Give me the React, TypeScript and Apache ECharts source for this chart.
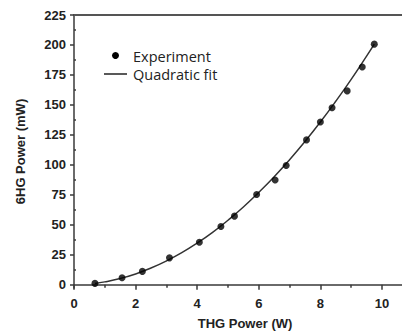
import React, { useEffect, useRef } from "react";
import * as echarts from "echarts";

const expX = [0.68, 1.56, 2.22, 3.1, 4.07, 4.77, 5.21, 5.93, 6.53, 6.89, 7.55, 8.0, 8.38, 8.87, 9.36, 9.75];
const expY = [1.1, 5.8, 11.1, 22.4, 35.4, 48.6, 57.2, 75.2, 87.3, 99.5, 120.8, 135.7, 147.6, 161.7, 181.6, 200.7];

const fitX = [0.68, 1, 1.5, 2, 2.5, 3, 3.5, 4, 4.5, 5, 5.5, 6, 6.5, 7, 7.5, 8, 8.5, 9, 9.5, 9.75];
const fitY = [1.1, 2.35, 5.2, 9.0, 13.9, 19.8, 26.7, 34.7, 43.7, 53.8, 64.8, 77.0, 90.1, 104.3, 119.5, 135.7, 153.0, 171.3, 190.7, 200.7];

const xMajor = [0, 2, 4, 6, 8, 10];
const xMinor = [1, 3, 5, 7, 9];
const yMajor = [0, 25, 50, 75, 100, 125, 150, 175, 200, 225];
const yMinor = [12.5, 37.5, 62.5, 87.5, 112.5, 137.5, 162.5, 187.5, 212.5];

const X_MIN = 0;
const X_MAX = 10.65;
const Y_MIN = -2.75;
const Y_MAX = 225;

const AXIS_COLOR = "#3a3a3a";

export default function App() {
  const ref = useRef<HTMLDivElement>(null);

  useEffect(() => {
    document.body.style.margin = "0";
    if (!ref.current) return;
    const chart = echarts.init(ref.current, undefined, { renderer: "svg" });

    const labelStyle = {
      fontFamily: "Liberation Sans, Arial, sans-serif",
      fontWeight: "bold" as const,
      fontSize: 13,
      color: "#222",
    };

    chart.setOption({
      animation: false,
      backgroundColor: "#fff",
      grid: { left: 74, top: 15, right: 0, bottom: 45 },
      xAxis: [
        {
          type: "value",
          min: X_MIN,
          max: X_MAX,
          position: "bottom",
          name: "THG Power (W)",
          nameLocation: "middle",
          nameGap: 29,
          nameTextStyle: { ...labelStyle, padding: [0, 0, 0, 14] },
          axisLine: { show: true, lineStyle: { color: AXIS_COLOR, width: 1.5 } },
          axisTick: { show: true, customValues: xMajor, length: 5, lineStyle: { color: AXIS_COLOR, width: 1.5 } },
          axisLabel: { customValues: xMajor, margin: 9, ...labelStyle },
          splitLine: { show: false },
        },
        {
          type: "value",
          min: X_MIN,
          max: X_MAX,
          position: "bottom",
          axisLine: { show: false },
          axisTick: { show: true, customValues: xMinor, length: 3, lineStyle: { color: AXIS_COLOR, width: 1.5 } },
          axisLabel: { show: false },
          splitLine: { show: false },
        },
        {
          type: "value",
          min: X_MIN,
          max: X_MAX,
          position: "top",
          axisLine: { show: true, lineStyle: { color: "#555", width: 2 } },
          axisTick: { show: false },
          axisLabel: { show: false },
          splitLine: { show: false },
        },
      ],
      yAxis: [
        {
          type: "value",
          min: Y_MIN,
          max: Y_MAX,
          name: "6HG Power (mW)",
          nameLocation: "middle",
          nameGap: 47,
          nameTextStyle: labelStyle,
          axisLine: { show: true, lineStyle: { color: AXIS_COLOR, width: 1.5 } },
          axisTick: { show: true, customValues: yMajor, length: 4, lineStyle: { color: AXIS_COLOR, width: 1.5 } },
          axisLabel: { customValues: yMajor, margin: 8, ...labelStyle },
          splitLine: { show: false },
        },
        {
          type: "value",
          min: Y_MIN,
          max: Y_MAX,
          axisLine: { show: false },
          axisTick: { show: true, customValues: yMinor, length: 2, lineStyle: { color: AXIS_COLOR, width: 1.5 } },
          axisLabel: { show: false },
          splitLine: { show: false },
        },
      ],
      graphic: [
        { type: "circle", shape: { cx: 115.5, cy: 55.5, r: 3.5 }, style: { fill: "#000" } },
        {
          type: "text",
          x: 133,
          y: 56,
          style: { text: "Experiment", fill: "#222", font: "14.5px 'Open Sans', sans-serif", verticalAlign: "middle" },
        },
        { type: "line", shape: { x1: 104, y1: 74, x2: 127, y2: 74 }, style: { stroke: "#222", lineWidth: 1.5 } },
        {
          type: "text",
          x: 133,
          y: 74,
          style: { text: "Quadratic fit", fill: "#222", font: "14.5px 'Open Sans', sans-serif", verticalAlign: "middle" },
        },
      ],
      series: [
        {
          name: "Quadratic fit",
          type: "line",
          xAxisIndex: 0,
          yAxisIndex: 0,
          data: fitX.map((x, i) => [x, fitY[i]]),
          smooth: true,
          showSymbol: false,
          symbol: "none",
          lineStyle: { color: "#333", width: 1.5 },
          z: 2,
        },
        {
          name: "Experiment",
          type: "scatter",
          xAxisIndex: 0,
          yAxisIndex: 0,
          data: expX.map((x, i) => [x, expY[i]]),
          symbol: "circle",
          symbolSize: 7,
          itemStyle: { color: "#000" },
          z: 3,
        },
      ],
    });

    return () => chart.dispose();
  }, []);

  return <div ref={ref} style={{ width: 402, height: 335 }} />;
}
